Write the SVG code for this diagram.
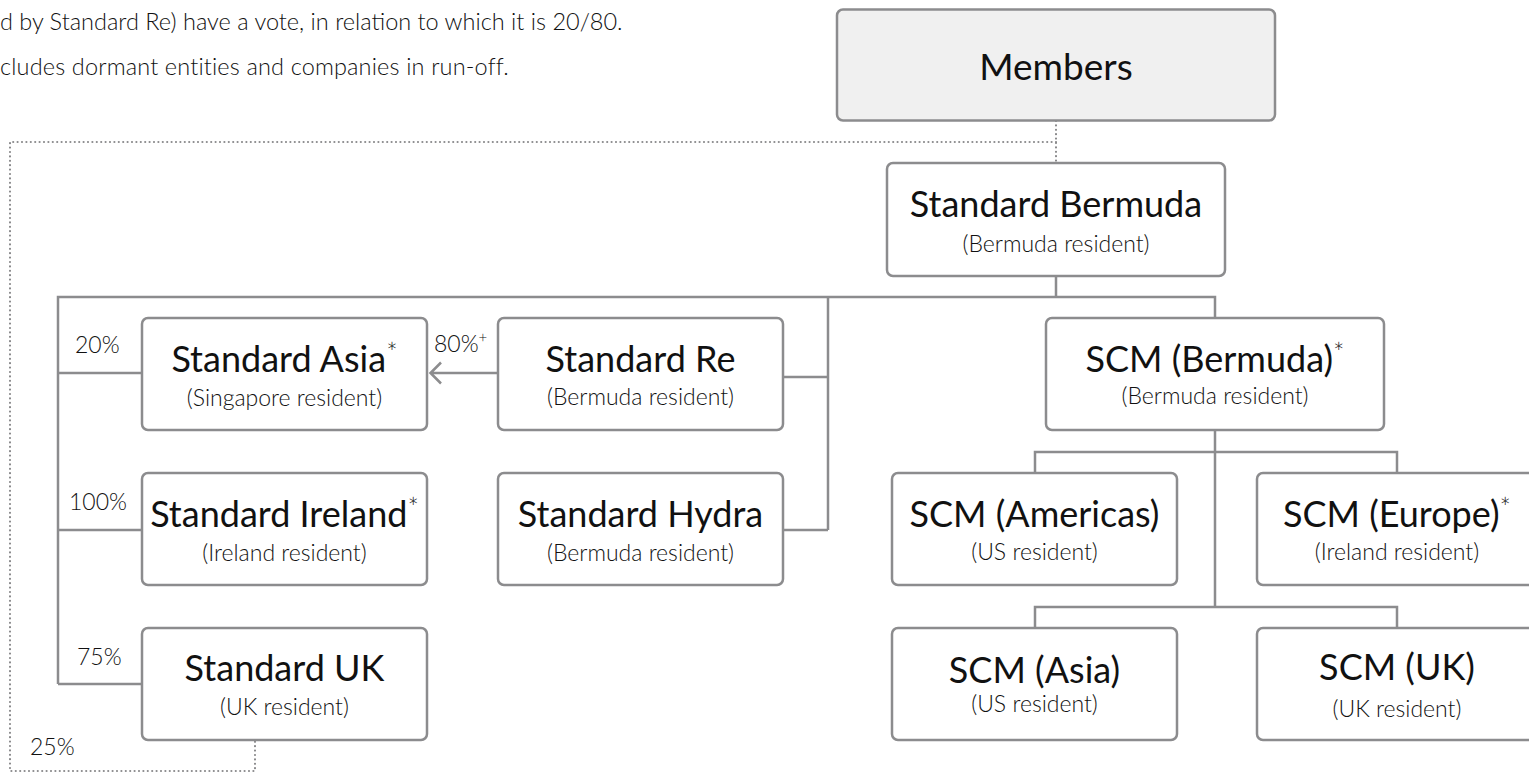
<svg xmlns="http://www.w3.org/2000/svg" width="1529" height="773" viewBox="0 0 1529 773">
<defs>
<style>
.box{fill:#ffffff;stroke:#8c8c8e;stroke-width:2.5}
.mem{fill:#f0f0f0;stroke:#8c8c8e;stroke-width:2.5}
.t{font-family:Lato,"Liberation Sans",sans-serif;font-size:36px;fill:#111;text-anchor:middle}
.s{font-family:Lato,"Liberation Sans",sans-serif;font-size:23px;font-weight:300;fill:#111;text-anchor:middle}
.p{font-family:Lato,"Liberation Sans",sans-serif;font-size:23px;font-weight:300;fill:#111}
.note{font-family:Lato,"Liberation Sans",sans-serif;font-size:23.5px;font-weight:300;fill:#111}
.sup{font-size:27px;font-weight:300}
.psup{font-size:15px;font-weight:300}
.ln{fill:none;stroke:#8c8c8e;stroke-width:2.5}
.dot{fill:none;stroke:#8a8a8c;stroke-width:2.2;stroke-dasharray:0 4.4;stroke-linecap:round}
</style>
</defs>
<rect width="1529" height="773" fill="#ffffff"/>
<g id="notes">
<text class="note" x="0" y="30">d by Standard Re) have a vote, in relation to which it is 20/80.</text>
<text class="note" x="0" y="75" style="letter-spacing:0.15px">cludes dormant entities and companies in run-off.</text>
</g>
<g id="connectors">
<path class="dot" d="M1056,121 V163 M1056,142 H10 V771 H255 V741"/>
<path class="ln" d="M1056,276 V297 M58,684 V297 H1215 V318 M58,373 H142 M58,530 H142 M58,684 H142 M828,297 V530 M783,377 H828 M783,530 H828"/>
<path class="ln" d="M1215,430 V607 M1035,472 V452 H1397 V472 M1035,627 V607 H1397 V627"/>
<path class="ln" d="M497,373 H431 M441,362.5 L430.5,373 L441,383.5"/>
</g>
<g id="labels">
<text class="p" x="75" y="353">20%</text>
<text class="p" x="434" y="352">80%<tspan class="psup" dy="-9">+</tspan></text>
<text class="p" x="69" y="510">100%</text>
<text class="p" x="77" y="665">75%</text>
<text class="p" x="30" y="755">25%</text>
</g>
<g id="members">
<rect class="mem" x="837" y="9.5" width="438" height="111" rx="6"/>
<text class="t" x="1056" y="80" style="font-size:37px">Members</text>
</g>
<g id="standard-bermuda">
<rect class="box" x="887" y="163" width="338" height="113" rx="6"/>
<text class="t" x="1056" y="217">Standard Bermuda</text>
<text class="s" x="1056" y="252">(Bermuda resident)</text>
</g>
<g id="standard-asia">
<rect class="box" x="142" y="318" width="285" height="112" rx="6"/>
<text class="t" x="284.5" y="372">Standard Asia<tspan class="sup" dy="-10">*</tspan></text>
<text class="s" x="284.5" y="406">(Singapore resident)</text>
</g>
<g id="standard-re">
<rect class="box" x="498" y="318" width="285" height="112" rx="6"/>
<text class="t" x="640.5" y="372">Standard Re</text>
<text class="s" x="640.5" y="405">(Bermuda resident)</text>
</g>
<g id="standard-ireland">
<rect class="box" x="142" y="473" width="285" height="112" rx="6"/>
<text class="t" x="284.5" y="527">Standard Ireland<tspan class="sup" dy="-10">*</tspan></text>
<text class="s" x="284.5" y="561">(Ireland resident)</text>
</g>
<g id="standard-hydra">
<rect class="box" x="498" y="473" width="285" height="112" rx="6"/>
<text class="t" x="640.5" y="527">Standard Hydra</text>
<text class="s" x="640.5" y="561">(Bermuda resident)</text>
</g>
<g id="standard-uk">
<rect class="box" x="142" y="628" width="285" height="112" rx="6"/>
<text class="t" x="284.5" y="681">Standard UK</text>
<text class="s" x="284.5" y="715">(UK resident)</text>
</g>
<g id="scm-bermuda">
<rect class="box" x="1046" y="318" width="338" height="112" rx="6"/>
<text class="t" x="1215" y="372">SCM (Bermuda)<tspan class="sup" dy="-10">*</tspan></text>
<text class="s" x="1215" y="404">(Bermuda resident)</text>
</g>
<g id="scm-americas">
<rect class="box" x="892" y="473" width="285" height="112" rx="6"/>
<text class="t" x="1034.5" y="527">SCM (Americas)</text>
<text class="s" x="1034.5" y="560">(US resident)</text>
</g>
<g id="scm-europe">
<rect class="box" x="1257" y="473" width="285" height="112" rx="6"/>
<text class="t" x="1397" y="527">SCM (Europe)<tspan class="sup" dy="-10">*</tspan></text>
<text class="s" x="1397" y="560">(Ireland resident)</text>
</g>
<g id="scm-asia">
<rect class="box" x="892" y="628" width="285" height="112" rx="6"/>
<text class="t" x="1034.5" y="683">SCM (Asia)</text>
<text class="s" x="1034.5" y="712">(US resident)</text>
</g>
<g id="scm-uk">
<rect class="box" x="1257" y="628" width="285" height="112" rx="6"/>
<text class="t" x="1397" y="680">SCM (UK)</text>
<text class="s" x="1397" y="717">(UK resident)</text>
</g>
</svg>
